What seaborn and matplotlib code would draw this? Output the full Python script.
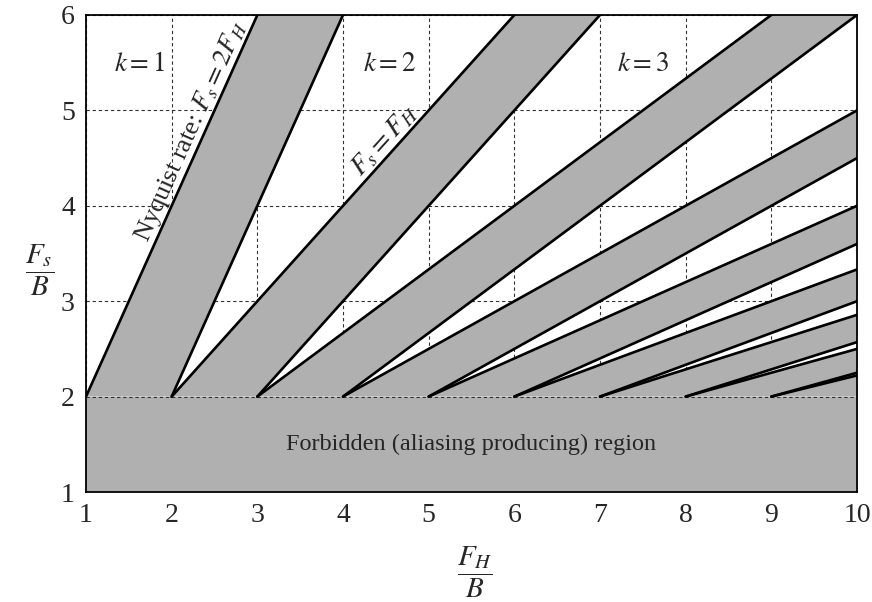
import numpy as np
import pandas as pd
import matplotlib
matplotlib.use("Agg")
import matplotlib.pyplot as plt
import seaborn as sns

# Order k of each forbidden (aliasing) wedge
orders = [1, 2, 3, 4, 5, 6, 7, 8, 9]
# Upper edge of wedge k: Fs/B = 2(FH/B)/k, leaves Fs/B = 2 at FH/B = k
upper_start = [1, 2, 3, 4, 5, 6, 7, 8, 9]
upper_at_10 = [20.0, 10.0, 6.667, 5.0, 4.0, 3.333, 2.857, 2.5, 2.222]
# Lower edge of wedge k: Fs/B = 2(FH/B - 1)/k, leaves Fs/B = 2 at FH/B = k + 1
lower_start = [2, 3, 4, 5, 6, 7, 8, 9, 10]
lower_at_10 = [18.0, 9.0, 6.0, 4.5, 3.6, 3.0, 2.571, 2.25, 2.0]

x_ticks = [1, 2, 3, 4, 5, 6, 7, 8, 9, 10]
y_ticks = [1, 2, 3, 4, 5, 6]
zone_names = ["$k = 1$", "$k = 2$", "$k = 3$"]
zone_x = [1.62, 4.54, 7.5]
zone_y = [5.48, 5.48, 5.48]

GRAY = "#b0b0b0"
FLOOR = 2.0

sns.set_theme(style="white")
plt.rcParams["font.family"] = ["Liberation Serif", "DejaVu Serif"]
plt.rcParams["mathtext.fontset"] = "stix"

fig = plt.figure(figsize=(8.72, 6.02), dpi=100)
ax = fig.add_axes([86 / 872, 1 - 492 / 602, (857 - 86) / 872, (492 - 15) / 602])
ax.set_xlim(1, 10)
ax.set_ylim(1, 6)

# dashed grid underneath the shaded regions
ax.set_xticks(x_ticks)
ax.set_yticks(y_ticks)
ax.grid(True, color="#333333", linestyle=(0, (3, 2.5)), linewidth=0.8)
ax.set_axisbelow(True)

# forbidden region below the Nyquist floor
ax.axhspan(1, FLOOR, color=GRAY, lw=0, zorder=1)

# forbidden wedges between consecutive orders
for k, xu, yu, xl, yl in zip(orders, upper_start, upper_at_10, lower_start, lower_at_10):
    poly = [(xu, FLOOR), (10, yu), (10, yl), (xl, FLOOR)]
    ax.fill([p[0] for p in poly], [p[1] for p in poly], color=GRAY, lw=0, zorder=1)

# boundary lines of every wedge
rows = []
for k, xu, yu, xl, yl in zip(orders, upper_start, upper_at_10, lower_start, lower_at_10):
    rows += [dict(edge=f"u{k}", x=xu, y=FLOOR), dict(edge=f"u{k}", x=10, y=yu)]
    if xl < 10:
        rows += [dict(edge=f"l{k}", x=xl, y=FLOOR), dict(edge=f"l{k}", x=10, y=yl)]
edges = pd.DataFrame(rows)
n_edges = edges["edge"].nunique()
sns.lineplot(data=edges, x="x", y="y", hue="edge", palette=["black"] * n_edges,
             estimator=None, sort=False, legend=False, linewidth=1.9, ax=ax, zorder=3)

# dashed line along the floor, drawn over the shading
ax.axhline(FLOOR, color="#333333", linestyle=(0, (3, 2.5)), linewidth=0.8, zorder=2)

ax.set_xlabel("")
ax.set_ylabel("")
for s in ax.spines.values():
    s.set_color("black")
    s.set_linewidth(1.3)
    s.set_zorder(5)
ax.tick_params(length=0, labelsize=20, pad=8)
ax.set_xticklabels([str(v) for v in x_ticks])
ax.set_yticklabels([str(v) for v in y_ticks])

for name, zx, zy in zip(zone_names, zone_x, zone_y):
    ax.text(zx, zy, name, fontsize=19.5, ha="center", va="center", zorder=4)

ax.text(5.49, 1.5, "Forbidden (aliasing producing) region", fontsize=17.5,
        ha="center", va="center", zorder=4)

# labels running along the k = 1 and k = 2 upper edges
fig.canvas.draw()
def edge_angle(x0, slope):
    p0 = ax.transData.transform((x0, slope * x0))
    p1 = ax.transData.transform((x0 + 1, slope * (x0 + 1)))
    return np.degrees(np.arctan2(p1[1] - p0[1], p1[0] - p0[0]))

a1 = edge_angle(2, 2.0)
ax.text(2.36, 4.72, "Nyquist rate: $F_s = 2F_H$", fontsize=19, rotation=a1,
        rotation_mode="anchor", ha="center", va="bottom", zorder=4)
a2 = edge_angle(4, 1.0)
ax.text(4.6, 4.6, "$F_s = F_H$", fontsize=20, rotation=a2,
        rotation_mode="anchor", ha="center", va="bottom", zorder=4)

fig.text(40 / 872, 1 - 270 / 602, r"$\dfrac{F_s}{B}$", fontsize=21, ha="center", va="center")
fig.text(475 / 872, 1 - 572 / 602, r"$\dfrac{F_H}{B}$", fontsize=21, ha="center", va="center")

fig.savefig("out.png", dpi=100)
